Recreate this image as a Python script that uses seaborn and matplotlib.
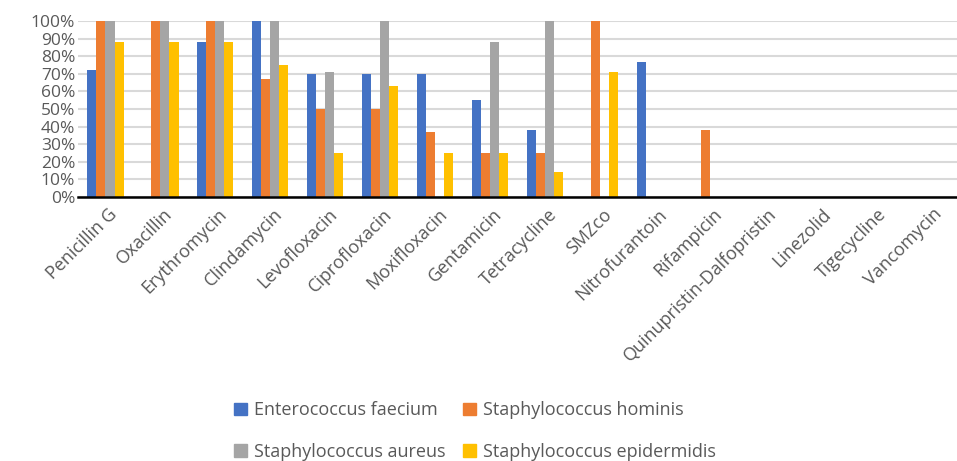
import numpy as np
import pandas as pd
import matplotlib.pyplot as plt
import seaborn as sns
from matplotlib.patches import Patch
from matplotlib.ticker import PercentFormatter
from matplotlib.transforms import ScaledTranslation

antibiotics = ['Penicillin G', 'Oxacillin', 'Erythromycin', 'Clindamycin', 'Levofloxacin',
               'Ciprofloxacin', 'Moxifloxacin', 'Gentamicin', 'Tetracycline', 'SMZco',
               'Nitrofurantoin', 'Rifampicin', 'Quinupristin-Dalfopristin', 'Linezolid',
               'Tigecycline', 'Vancomycin']
species = ['Enterococcus faecium', 'Staphylococcus hominis',
           'Staphylococcus aureus', 'Staphylococcus epidermidis']

faecium = [72, 0, 88, 100, 70, 70, 70, 55, 38, 0, 77, 0, 0, 0, 0, 0]
hominis = [100, 100, 100, 67, 50, 50, 37, 25, 25, 100, 0, 38, 0, 0, 0, 0]
aureus = [100, 100, 100, 100, 71, 100, 0, 88, 100, 0, 0, 0, 0, 0, 0, 0]
epidermidis = [88, 88, 88, 75, 25, 63, 25, 25, 14, 71, 0, 0, 0, 0, 0, 0]

colors = ['#4472C4', '#ED7D31', '#A5A5A5', '#FFC000']

df = pd.DataFrame({'Antibiotic': antibiotics * 4,
                   'Species': np.repeat(species, len(antibiotics)),
                   'Rate': faecium + hominis + aureus + epidermidis})

sns.set_style('white')
plt.rcParams['font.family'] = ['Open Sans', 'DejaVu Sans']

fig = plt.figure(figsize=(9.57, 4.61), dpi=100)
ax = fig.add_axes([0.0815, 0.573, 0.9185, 0.381])

sns.barplot(data=df, x='Antibiotic', y='Rate', hue='Species', palette=colors,
            width=0.66, saturation=1, linewidth=0, ax=ax, legend=False)

ax.set_ylim(0, 100)
ax.set_xlim(-0.5, len(antibiotics) - 0.5)
ax.set_yticks(range(0, 101, 10))
ax.yaxis.set_major_formatter(PercentFormatter(decimals=0))
ax.grid(axis='y', color='#D9D9D9', linewidth=1.5)
ax.set_axisbelow(True)
for s in ['left', 'right', 'top']:
    ax.spines[s].set_visible(False)
ax.spines['bottom'].set_color('black')
ax.spines['bottom'].set_linewidth(1.8)
ax.spines['bottom'].set_zorder(5)
ax.set_xlabel('')
ax.set_ylabel('')
ax.tick_params(axis='both', length=0, colors='#595959', labelsize=12.5, pad=2)
ax.tick_params(axis='x', labelsize=13, pad=6)
offset = ScaledTranslation(2 / 72, 0, fig.dpi_scale_trans)
for lab in ax.get_xticklabels():
    lab.set_rotation(45)
    lab.set_ha('right')
    lab.set_va('top')
    lab.set_rotation_mode('anchor')
    lab.set_transform(lab.get_transform() + offset)

# legend fills column-wise, so order the handles to read row by row
order = [0, 2, 1, 3]
handles = [Patch(color=colors[i], label=species[i]) for i in order]
fig.legend(handles=handles, ncol=2, loc='lower left', bbox_to_anchor=(0.228, -0.035),
           frameon=False, fontsize=13, labelcolor='#595959', handlelength=0.7,
           handleheight=0.7, handletextpad=0.4, columnspacing=0.95, labelspacing=1.3)

fig.savefig('out.png', dpi=100)
